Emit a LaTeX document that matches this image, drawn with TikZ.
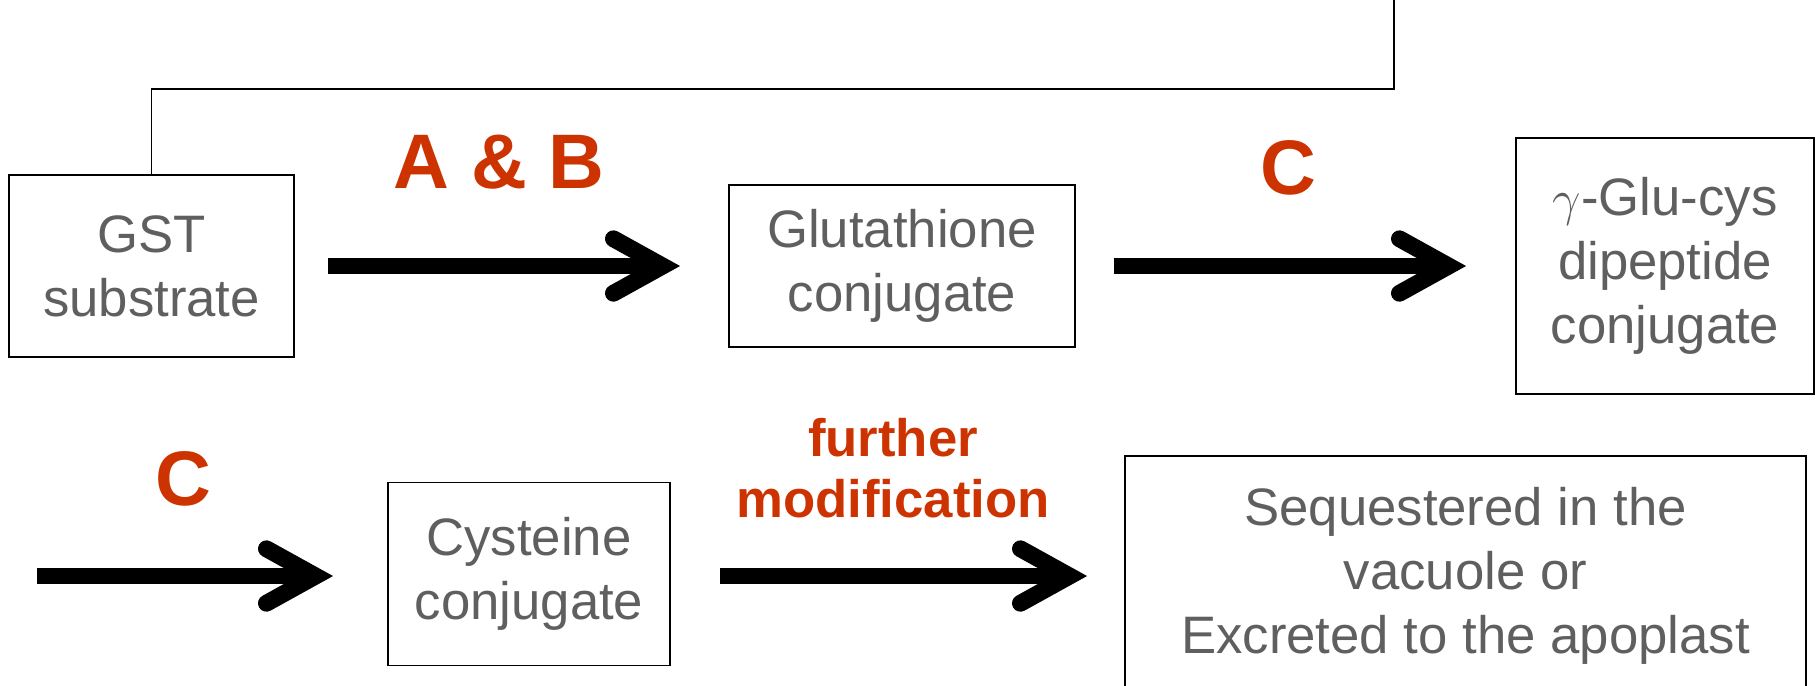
\documentclass[tikz,border=0pt]{standalone}
\usepackage{fontspec}
\setmainfont{Liberation Sans}
\usetikzlibrary{arrows.meta}

\definecolor{boxtext}{RGB}{95,95,95}
\definecolor{enzred}{RGB}{204,51,0}

\tikzset{
    stage/.style={draw=black, line width=0.55pt, text=boxtext, align=center,
        font=\fontsize{15}{18.2}\selectfont, inner sep=0pt},
    enzyme/.style={text=enzred, align=center, font=\bfseries\fontsize{22}{26}\selectfont},
    modlabel/.style={text=enzred, align=center, font=\bfseries\fontsize{15}{17.3}\selectfont},
    flow/.style={line width=4.8pt,
        -{Straight Barb[length=14pt,width=15.5pt,line cap=round,line join=miter]}},
}

\begin{document}
\begin{tikzpicture}[x=0.1mm, y=-0.1mm]
    \clip (0,0) rectangle (1818,685);

    % boxes of the pathway
    \node[stage, minimum width=28.5mm, minimum height=18.2mm] (gst) at (151.5,266) {GST\\substrate};
    \node[stage, minimum width=34.6mm, minimum height=16.2mm] (gsconj) at (902,266) {Glutathione\\conjugate};
    \node[stage, minimum width=29.8mm, minimum height=25.6mm] (dipep) at (1665,266) {$\gamma$-Glu-cys\\dipeptide\\conjugate};
    \node[stage, minimum width=28.2mm, minimum height=18.3mm] (cysconj) at (529,574) {Cysteine\\conjugate};
    \node[stage, minimum width=68.1mm, minimum height=24mm] (fate) at (1465.5,576) {Sequestered in the\\vacuole or\\Excreted to the apoplast};

    % line back from the top edge
    \coordinate (topend) at (1394,0);
    \draw[line width=0.55pt] (gst.north) |- (topend |- 0,89) -- (topend);

    % reaction arrows
    \coordinate (rowstart) at (37,576);
    \draw[flow, shorten <=3.3mm, shorten >=4.8mm] (gst.east) -- (gsconj.west);
    \draw[flow, shorten <=3.8mm, shorten >=4.9mm] (gsconj.east) -- (dipep.west);
    \draw[flow, shorten >=5.4mm] (rowstart) -- (rowstart -| cysconj.west);
    \draw[flow, shorten <=4.9mm, shorten >=3.7mm] (cysconj.east |- rowstart) -- (fate.west |- rowstart);

    % enzyme labels
    \node[enzyme] (ab) at (499,162) {A \& B};
    \node[enzyme] (c1) at (1288,168) {C};
    \node[enzyme] (c2) at (183,479) {C};
    \node[modlabel] (mod) at (893,468) {further\\modification};
\end{tikzpicture}
\end{document}
